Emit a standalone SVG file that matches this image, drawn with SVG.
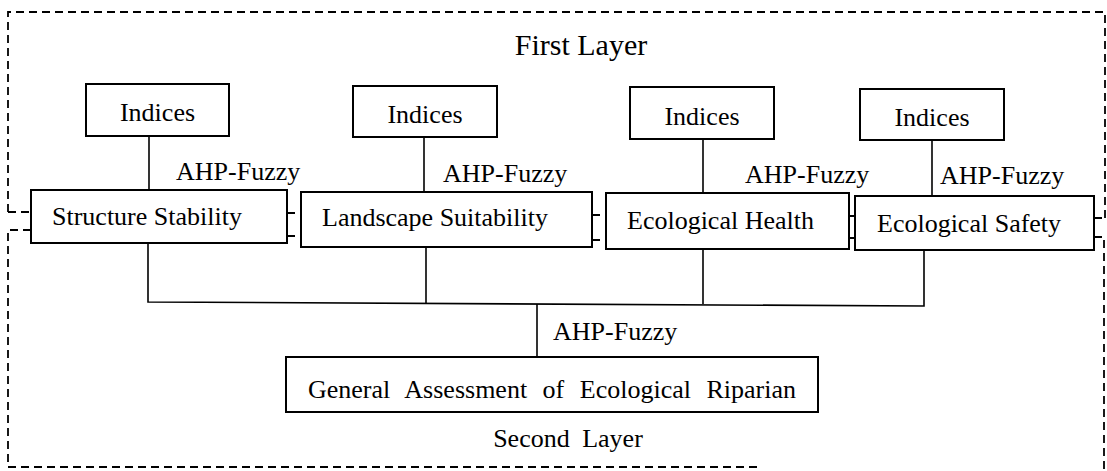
<svg xmlns="http://www.w3.org/2000/svg" width="1107" height="471" viewBox="0 0 1107 471">
<style>
.box{fill:#fff;stroke:#000;stroke-width:2}
.ln{fill:none;stroke:#000;stroke-width:1.6}
.dash{fill:none;stroke:#000;stroke-width:1.8;stroke-dasharray:8 5}
text{font-family:"Liberation Serif","Times New Roman",serif;font-size:26px;fill:#000}
.c{text-anchor:middle}
</style>
<rect width="1107" height="471" fill="#fff"/>
<g id="layers">
<path class="dash" d="M8,212 V12 H1105 V218"/>
<path class="dash" d="M8,212 H31"/>
<path class="dash" d="M287,213 H301 M592,215 H606 M849,216 H855 M1094,218 H1105"/>
<path class="dash" d="M31,230 H8 V467 H760"/>
<path class="dash" d="M287,236 H301 M592,240 H606 M849,238 H855 M1094,237 H1104 V471"/>
<text id="first-layer" x="581" y="55" class="c" style="font-size:30px">First Layer</text>
<text id="second-layer" x="568" y="447" class="c" word-spacing="6">Second Layer</text>
</g>
<g id="connectors">
<path class="ln" d="M149,136 V191"/>
<path class="ln" d="M424,137 V192"/>
<path class="ln" d="M703,139 V193"/>
<path class="ln" d="M932,140 V196"/>
<path class="ln" d="M148,243 V302 L924,306 V250"/>
<path class="ln" d="M426,246 V303"/>
<path class="ln" d="M703,248 V304"/>
<path class="ln" d="M537,304 V357"/>
<text x="176" y="180">AHP-Fuzzy</text>
<text x="443" y="182">AHP-Fuzzy</text>
<text x="745" y="183">AHP-Fuzzy</text>
<text x="940" y="184">AHP-Fuzzy</text>
<text x="553" y="340">AHP-Fuzzy</text>
</g>
<g id="indices-1"><rect class="box" x="86" y="84" width="143" height="52"/><text x="157.5" y="121" class="c">Indices</text></g>
<g id="indices-2"><rect class="box" x="353" y="86" width="144" height="51"/><text x="425" y="123" class="c">Indices</text></g>
<g id="indices-3"><rect class="box" x="630" y="87" width="144" height="52"/><text x="702" y="125" class="c">Indices</text></g>
<g id="indices-4"><rect class="box" x="860" y="89" width="144" height="51"/><text x="932" y="126" class="c">Indices</text></g>
<g id="structure-stability"><rect class="box" x="31" y="190" width="256" height="53"/><text x="52" y="225">Structure Stability</text></g>
<g id="landscape-suitability"><rect class="box" x="301" y="192" width="291" height="55"/><text x="322" y="226">Landscape Suitability</text></g>
<g id="ecological-health"><rect class="box" x="606" y="193" width="243" height="56"/><text x="627" y="229">Ecological Health</text></g>
<g id="ecological-safety"><rect class="box" x="855" y="196" width="239" height="54"/><text x="877" y="232">Ecological Safety</text></g>
<g id="general-assessment"><rect class="box" x="286" y="357" width="532" height="55"/><text x="552" y="398" class="c" word-spacing="9">General Assessment of Ecological Riparian</text></g>
</svg>
